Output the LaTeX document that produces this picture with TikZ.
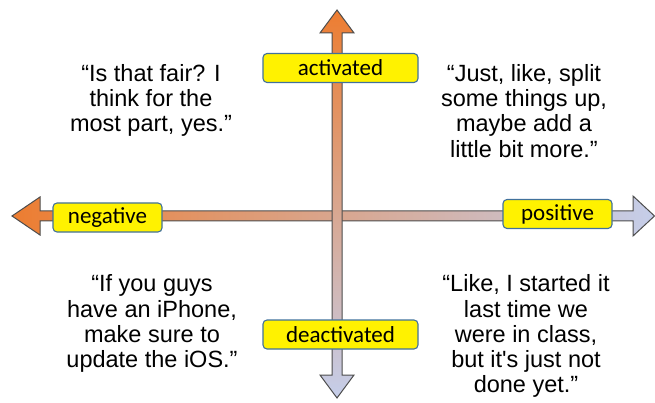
\documentclass[tikz,border=0pt]{standalone}
\usepackage{fontspec}
\setmainfont{Liberation Sans}[Ligatures=TeXOff]
\newfontfamily\labelfont{Carlito}
\definecolor{arrOrange}{HTML}{ED7D31}
\definecolor{arrBlue}{HTML}{C5CEEA}
\definecolor{arrEdge}{HTML}{4D4D4D}
\definecolor{boxEdge}{HTML}{41719C}
\tikzset{
  quote/.style={align=center, inner sep=0pt, anchor=north,
    font=\fontsize{23.5}{25.3}\selectfont},
  axislabel/.style={draw=boxEdge, line width=1.1pt, fill=yellow, rounded corners=4pt,
    inner sep=0pt, minimum height=29pt, font=\labelfont\fontsize{23}{24}\selectfont},
  arrowbody/.style={draw=arrEdge, line width=1pt, line join=miter}
}
\begin{document}
\begin{tikzpicture}[x=1pt,y=-1pt]
\useasboundingbox (0,0) rectangle (655,403);
% horizontal double arrow
\shadedraw[arrowbody, left color=arrOrange, right color=arrBlue]
  (12,216) -- (40,197) -- (40,211) -- (633,211) -- (633,196) -- (654.5,216)
  -- (633,236) -- (633,221) -- (40,221) -- (40,235) -- cycle;
% vertical double arrow
\shadedraw[arrowbody, top color=arrOrange, bottom color=arrBlue]
  (337,10) -- (354,33) -- (342,33) -- (342,375) -- (354,375) -- (337,398)
  -- (320,375) -- (332,375) -- (332,33) -- (320,33) -- cycle;
% axis labels
\node[axislabel, minimum width=155pt] (act) at (340.5,68) {activated};
\node[axislabel, minimum width=155pt] (deact) at (340.5,334.5) {deactivated};
\node[axislabel, minimum width=109pt] (neg) at (107.5,217.5) {negative};
\node[axislabel, minimum width=109pt] (pos) at (557.5,214) {positive};
% quotes
\node[quote] (q1) at (151,64) {“Is that fair? I\\think for the\\most part, yes.”};
\node[quote] (q2) at (524,64) {“Just, like, split\\some things up,\\maybe add a\\little bit more.”};
\node[quote] (q3) at (152,274.5) {“If you guys\\have an iPhone,\\make sure to\\update the iOS.”};
\node[quote] (q4) at (526,274.5) {“Like, I started it\\last time we\\were in class,\\but it's just not\\done yet.”};
\end{tikzpicture}
\end{document}
